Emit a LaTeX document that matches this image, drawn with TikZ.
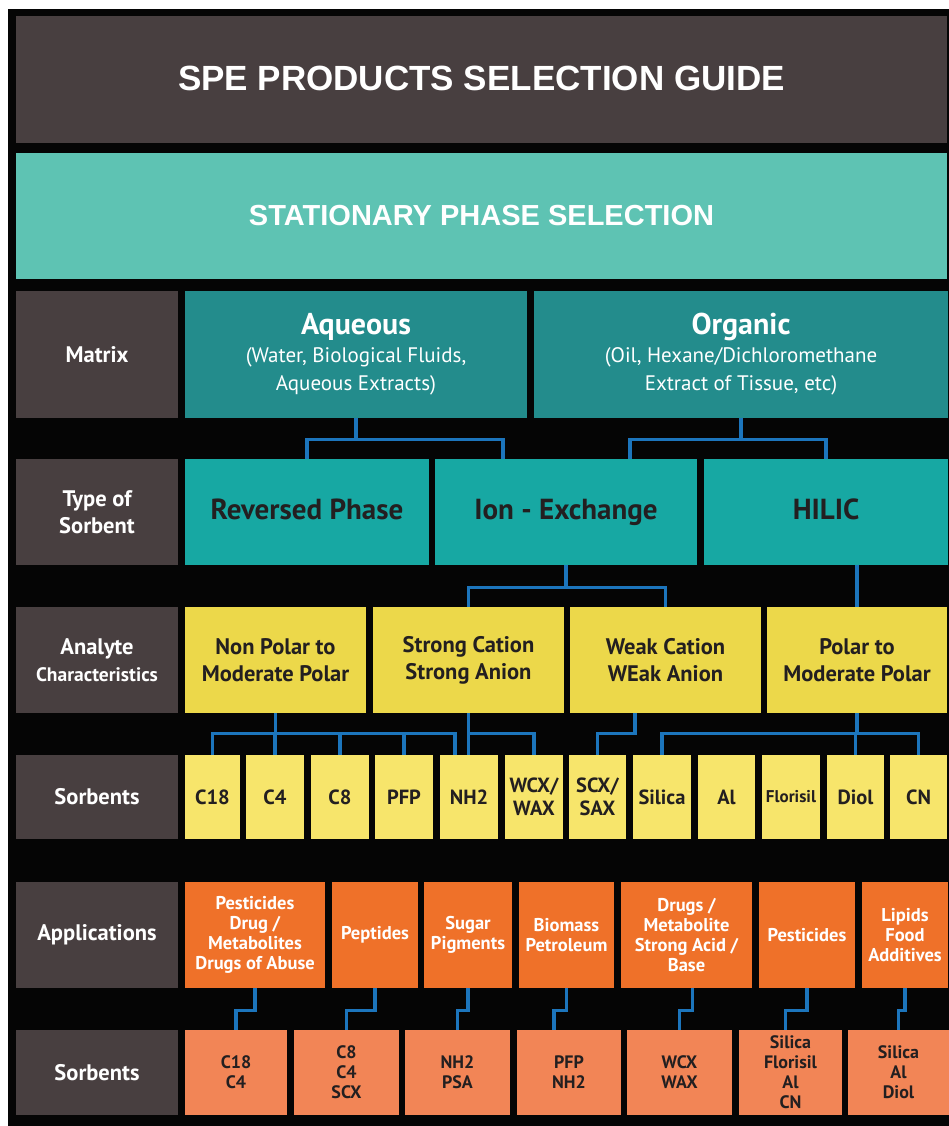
\documentclass[tikz,border=0pt]{standalone}
\usepackage{fontspec}
\setmainfont{PT Sans}
\newfontfamily\headfont{Liberation Sans}
\usepackage{tikz}
\usetikzlibrary{calc}
\definecolor{speblack}{HTML}{050505}
\definecolor{spegray}{HTML}{483F40}
\definecolor{spemint}{HTML}{5EC3B3}
\definecolor{speteal}{HTML}{238C8C}
\definecolor{speturq}{HTML}{17A8A3}
\definecolor{speyellow}{HTML}{ECD84A}
\definecolor{spelemon}{HTML}{F7E56B}
\definecolor{speorange}{HTML}{EF7129}
\definecolor{speapricot}{HTML}{F28556}
\definecolor{speblue}{HTML}{1C75BC}
\definecolor{speink}{HTML}{231F20}

\begin{document}
\begin{tikzpicture}[x=1pt,y=-1pt,
  cell/.style={inner sep=0pt, align=center},
  side/.style={cell, fill=spegray, text=white, minimum width=162pt, font=\bfseries\fontsize{22.5}{27}\selectfont},
  matrixcell/.style={cell, fill=speteal, text=white, minimum height=127pt, font=\fontsize{21}{28}\selectfont},
  typecell/.style={cell, fill=speturq, text=speink, minimum height=106pt, text height=21pt, text depth=6pt, font=\bfseries\fontsize{29}{32}\selectfont},
  analytecell/.style={cell, fill=speyellow, text=speink, minimum height=106pt, font=\bfseries\fontsize{22.5}{27}\selectfont},
  sorbcell/.style={cell, fill=spelemon, text=speink, minimum height=84pt, font=\bfseries\fontsize{20.5}{23}\selectfont},
  appcell/.style={cell, fill=speorange, text=white, minimum height=106pt, font=\bfseries\fontsize{18.5}{20}\selectfont},
  pickcell/.style={cell, fill=speapricot, text=speink, minimum height=85pt, font=\bfseries\fontsize{18}{20}\selectfont},
  link/.style={draw=speblue, line width=3.4pt}]
  \useasboundingbox (0,0) rectangle (949,1126);
  \fill[white] (0,0) rectangle (949,1126);
  \fill[speblack] (8,9) rectangle (949,1126);

  % headers
  \node[cell, fill=spegray, text=white, minimum width=931pt, minimum height=127pt,
    font=\headfont\bfseries\fontsize{35}{40}\selectfont] (guide) at (481.5,79.5) {\raisebox{2pt}{SPE PRODUCTS SELECTION GUIDE}};
  \node[cell, fill=spemint, text=white, minimum width=931pt, minimum height=126pt,
    font=\headfont\bfseries\fontsize{29}{34}\selectfont] (phase) at (481.5,216) {STATIONARY PHASE SELECTION};

  % row labels
  \node[side, minimum height=127pt] (lmatrix) at (97,354.5) {Matrix};
  \node[side, minimum height=106pt] (ltype) at (97,512) {Type of\\Sorbent};
  \node[side, minimum height=106pt] (lanalyte) at (97,660) {Analyte\\{\fontsize{19.5}{24}\selectfont Characteristics}};
  \node[side, minimum height=84pt] (lsorb) at (97,797) {Sorbents};
  \node[side, minimum height=106pt] (lapp) at (97,935) {Applications};
  \node[side, minimum height=85pt] (lpick) at (97,1072.5) {Sorbents};

  % matrix
  \node[matrixcell, minimum width=342pt] (aqueous) at (356,354.5)
    {{\bfseries\fontsize{30}{28}\selectfont Aqueous}\\(Water, Biological Fluids,\\Aqueous Extracts)};
  \node[matrixcell, minimum width=414pt] (organic) at (741,354.5)
    {{\bfseries\fontsize{30}{28}\selectfont Organic}\\(Oil, Hexane/Dichloromethane\\Extract of Tissue, etc)};

  % type of sorbent
  \node[typecell, minimum width=244pt] (rp) at (307,512) {Reversed Phase};
  \node[typecell, minimum width=262pt] (ion) at (566,512) {Ion - Exchange};
  \node[typecell, minimum width=244pt] (hilic) at (826,512) {HILIC};

  % analyte characteristics
  \node[analytecell, minimum width=181pt] (nonpolar) at (275.5,660) {Non Polar to\\Moderate Polar};
  \node[analytecell, minimum width=191pt] (strong) at (468.5,660) {Strong Cation\\Strong Anion};
  \node[analytecell, minimum width=191pt] (weak) at (665.5,660) {Weak Cation\\WEak Anion};
  \node[analytecell, minimum width=180pt] (polar) at (857,660) {Polar to\\Moderate Polar};

  % sorbents
  \node[sorbcell, minimum width=55pt] (c18) at (212.5,797) {C18};
  \node[sorbcell, minimum width=58pt] (c4) at (275,797) {C4};
  \node[sorbcell, minimum width=58pt] (c8) at (340,797) {C8};
  \node[sorbcell, minimum width=58pt] (pfp) at (404,797) {PFP};
  \node[sorbcell, minimum width=58pt] (nh) at (469,797) {NH2};
  \node[sorbcell, minimum width=58pt] (wcx) at (534,797) {WCX/\\WAX};
  \node[sorbcell, minimum width=57pt] (scx) at (597.5,797) {SCX/\\SAX};
  \node[sorbcell, minimum width=58pt] (silica) at (662,797) {Silica};
  \node[sorbcell, minimum width=57pt] (al) at (726.5,797) {Al};
  \node[sorbcell, minimum width=58pt, font=\bfseries\fontsize{17}{18}\selectfont] (florisil) at (791,797) {Florisil};
  \node[sorbcell, minimum width=57pt] (diol) at (855.5,797) {Diol};
  \node[sorbcell, minimum width=57pt] (cn) at (918.5,797) {CN};

  % applications
  \node[appcell, minimum width=140pt] (a1) at (255,935) {Pesticides\\Drug /\\Metabolites\\Drugs of Abuse};
  \node[appcell, minimum width=86pt] (a2) at (375,935) {Peptides};
  \node[appcell, minimum width=88pt] (a3) at (468,935) {Sugar\\Pigments};
  \node[appcell, minimum width=95pt] (a4) at (566.5,935) {Biomass\\Petroleum};
  \node[appcell, minimum width=131pt] (a5) at (686.5,935) {Drugs /\\Metabolite\\Strong Acid /\\Base};
  \node[appcell, minimum width=96pt] (a6) at (807,935) {Pesticides};
  \node[appcell, minimum width=86pt] (a7) at (905,935) {Lipids\\Food\\Additives};

  % sorbents per application
  \node[pickcell, minimum width=102pt] (t1) at (236,1072.5) {C18\\C4};
  \node[pickcell, minimum width=105pt] (t2) at (346.5,1072.5) {C8\\C4\\SCX};
  \node[pickcell, minimum width=105pt] (t3) at (457.5,1072.5) {NH2\\PSA};
  \node[pickcell, minimum width=104pt] (t4) at (569,1072.5) {PFP\\NH2};
  \node[pickcell, minimum width=105pt] (t5) at (679.5,1072.5) {WCX\\WAX};
  \node[pickcell, minimum width=103pt] (t6) at (790.5,1072.5) {Silica\\Florisil\\Al\\CN};
  \node[pickcell, minimum width=101pt] (t7) at (898.5,1072.5) {Silica\\Al\\Diol};

  % matrix -> type
  \coordinate (aqbus) at ($(aqueous.south)+(0,21)$);
  \draw[link] (aqueous.south) -- (aqbus) -| (rp.north);
  \draw[link] (aqbus) -| ([xshift=68pt]ion.north west);
  \coordinate (orbus) at ($(organic.south)+(0,21)$);
  \draw[link] (organic.south) -- (orbus) -| ([xshift=195pt]ion.north west);
  \draw[link] (orbus) -| (hilic.north);

  % type -> analyte
  \coordinate (ionbus) at ($(ion.south)+(0,22)$);
  \draw[link] (ion.south) -- (ionbus) -| (strong.north);
  \draw[link] (ionbus) -| (weak.north);
  \draw[link] (hilic.south -| polar.north) -- (polar.north);

  % analyte -> sorbents
  \coordinate (npbus) at ($(nonpolar.south)+(0,20)$);
  \draw[link] (nonpolar.south) -- (npbus);
  \draw[link] (c18.north) |- (npbus) -| ([xshift=-14pt]nh.north);
  \draw[link] (c4.north |- npbus) -- (c4.north);
  \draw[link] (c8.north |- npbus) -- (c8.north);
  \draw[link] (pfp.north |- npbus) -- (pfp.north);
  \coordinate (stbus) at ($(strong.south)+(0,20)$);
  \draw[link] (strong.south) -- (strong.south |- nh.north);
  \draw[link] (stbus) -| (wcx.north);
  \draw[link] ([xshift=65pt]weak.south west) -- ++(0,20) -| (scx.north);
  \coordinate (plbus) at ($(polar.south)+(0,20)$);
  \draw[link] (polar.south) -- (plbus);
  \draw[link] (silica.north) |- (plbus) -| (cn.north);
  \draw[link] (diol.north |- plbus) -- (diol.north);

  % applications -> sorbents
  \draw[link] (a1.south) -- ++(0,22) -| (t1.north);
  \draw[link] (a2.south) -- ++(0,22) -| (t2.north);
  \draw[link] (a3.south) -- ++(0,22) -| (t3.north);
  \draw[link] (a4.south) -- ++(0,22) -| ([xshift=-15pt]t4.north);
  \draw[link] ([xshift=6pt]a5.south) -- ++(0,22) -| (t5.north);
  \draw[link] (a6.south) -- ++(0,22) -| ([xshift=-5pt]t6.north);
  \draw[link] (a7.south) -- ++(0,22) -| (t7.north);
\end{tikzpicture}
\end{document}
